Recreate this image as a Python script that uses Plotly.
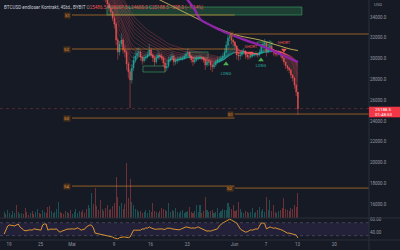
import pandas as pd
import plotly.graph_objects as go

W, H = 400, 250
BG = "#161a25"

# ---------------- data (8h candles, BYBIT BTCUSD) ----------------
candle_start = "2022-04-18 02:00"
candle_step = "8h"

close = [
    39400, 39000, 40800, 41000, 41300, 41500, 41800, 41200, 41400, 41700, 42600, 40500,
    40300, 40000, 39700, 39800, 39600, 39500, 39500, 39700, 39400, 38800, 39900, 40400,
    40200, 39000, 38100, 38500, 39200, 39200, 39300, 39900, 39700, 39500, 38900, 38600,
    38700, 38300, 37700, 37900, 38300, 38500, 38700, 38900, 38500, 38000, 37800, 37700,
    37900, 38800, 39700, 39300, 37200, 36500, 36200, 35800, 36000, 35900, 35700, 35250,
    34870, 34480, 33900, 33330, 31790, 30630, 31400, 31790, 30830, 30630, 29480, 28710,
    27940, 29100, 29870, 30250, 30540, 30630, 30150, 29770, 30060, 30150, 30350, 30830,
    30350, 30060, 29670, 30060, 30350, 30250, 30060, 29580, 29100, 29290, 29870, 30060,
    30250, 29670, 29770, 29870, 29960, 30060, 30060, 30250, 30440, 30630, 30250, 29870,
    29670, 29870, 30060, 30060, 30150, 30060, 29870, 29380, 29670, 29670, 29380, 29190,
    29380, 29670, 29870, 29870, 30060, 30250, 30630, 31310, 31980, 32170, 31790, 31600,
    31210, 30350, 30250, 30350, 30630, 30730, 30350, 30150, 30150, 30250, 30350, 30440,
    30440, 30350, 30630, 31120, 31400, 31500, 30630, 31120, 31210, 30830, 30630, 30440,
    30440, 30540, 30350, 30060, 29670, 29290, 29100, 28900, 28420, 28130, 27460, 26790,
    25188.5,
]
first_visible = 57
high = [
    36300, 36100, 35800, 35400, 35000, 34600, 34100, 33500, 32000, 31700, 32400, 32000,
    31300, 30800, 29700, 29000, 29500, 30300, 30700, 31000, 31100, 30800, 30300, 30400,
    30500, 30700, 31400, 31000, 30500, 30200, 30400, 30800, 30600, 30500, 30200, 29700,
    29600, 30200, 30400, 30600, 30400, 30100, 30200, 30200, 30300, 30300, 30500, 30700,
    31000, 30700, 30300, 30000, 30200, 30300, 30300, 30400, 30300, 30200, 30000, 29900,
    29900, 29800, 29500, 29600, 29900, 30100, 30200, 30300, 30500, 31000, 31700, 32300,
    32500, 32200, 31900, 31700, 31300, 30600, 30600, 30900, 31000, 30800, 30500, 30400,
    30500, 30500, 30600, 30700, 30600, 30900, 31400, 31700, 31900, 31600, 31400, 31800,
    31300, 30900, 30700, 30700, 30800, 30600, 30400, 30100, 29700, 29400, 29200, 29000,
    28500, 28200, 27500, 26207.5,
]
low = [
    35600, 35400, 34900, 34600, 34200, 33600, 32900, 31300, 29900, 30300, 31100, 30500,
    30100, 28900, 28100, 25250, 27600, 28800, 29600, 30000, 30200, 29800, 29400, 29600,
    29800, 30000, 30200, 30100, 29700, 29300, 29500, 29900, 29900, 29800, 29200, 28700,
    28800, 29100, 29700, 29900, 29300, 29400, 29500, 29700, 29800, 29800, 29900, 30100,
    30300, 30000, 29600, 29300, 29500, 29700, 29800, 29900, 29800, 29600, 28900, 29200,
    29300, 28900, 28700, 29000, 29200, 29500, 29600, 29700, 29900, 30100, 30500, 31200,
    31700, 31400, 31200, 30800, 29900, 29800, 29900, 30200, 30400, 30000, 29900, 29900,
    30000, 30100, 30200, 30200, 30100, 30200, 30500, 31000, 31200, 30200, 30500, 30900,
    30600, 30300, 30200, 30200, 30300, 30100, 29800, 29400, 29000, 28800, 28600, 28100,
    27800, 27100, 26400, 24600,
]
volume = [
    600, 400, 800, 500, 300, 700, 500, 1300, 600, 400, 500,
    400, 1000, 600, 300, 500, 700, 400, 600, 900, 500, 400,
    800, 600, 500, 1100, 1200, 700, 500, 600, 900, 1600, 600,
    500, 400, 700, 600, 500, 800, 400, 600, 900, 500, 700,
    600, 800, 500, 900, 1300, 1000, 2500, 1400, 3000, 1200, 800,
    1800, 900, 700, 1000, 1300, 800, 900, 1200, 1500, 4100, 2100,
    1200, 1500, 900, 1400, 5500, 2000, 3900, 1600, 1300, 900, 800,
    600, 700, 500, 600, 800, 500, 800, 600, 1500, 700, 600,
    500, 700, 1000, 900, 800, 700, 1500, 600, 800, 700, 1000,
    600, 500, 700, 800, 500, 600, 700, 1100, 600, 500, 700,
    1300, 600, 1300, 500, 700, 2100, 800, 600, 700, 800, 500,
    600, 1000, 500, 700, 900, 800, 800, 1500, 1100, 900, 1300,
    700, 800, 1600, 900, 600, 500, 700, 600, 500, 600, 1000,
    500, 600, 800, 1100, 700, 900, 600, 2100, 800, 1800, 700,
    1300, 600, 500, 700, 800, 1000, 2000, 900, 800, 700, 1000,
    900, 1300, 1100, 2500,
]
rsi = [
    35, 51, 60, 63, 63, 61, 60, 63, 66, 57, 51,
    48, 45, 45, 47, 48, 47, 51, 50, 50, 48, 47,
    63, 66, 66, 47, 50, 51, 50, 50, 51, 44, 41,
    44, 47, 48, 50, 51, 50, 51, 50, 52, 54, 51,
    47, 49, 50, 57, 60, 63, 62, 54, 38, 37, 35,
    35, 34, 32, 32, 31, 29, 29, 26, 23, 21, 20,
    24, 26, 26, 26, 24, 24, 26, 38, 47, 47, 48,
    47, 47, 51, 50, 54, 53, 57, 54, 51, 50, 50,
    51, 50, 51, 50, 49, 53, 54, 53, 51, 50, 49,
    47, 48, 50, 52, 53, 57, 56, 54, 53, 54, 53,
    55, 57, 54, 51, 48, 45, 44, 45, 44, 46, 47,
    48, 51, 60, 66, 69, 72, 75, 78, 81, 78, 75,
    72, 69, 60, 51, 47, 44, 41, 42, 45, 48, 47,
    49, 51, 50, 60, 69, 69, 67, 51, 54, 57, 55,
    53, 54, 53, 51, 49, 47, 44, 40, 38, 38, 37,
    35, 34, 32, 23,
]

# slow moving averages
ema200_x = ["2022-05-15 20:00", "2022-05-17 19:00", "2022-05-19 17:00", "2022-05-21 14:00",
            "2022-05-23 12:00", "2022-05-25 10:00", "2022-05-27 08:00", "2022-05-29 05:00",
            "2022-05-31 03:00", "2022-06-02 01:00", "2022-06-03 23:00", "2022-06-05 20:00",
            "2022-06-07 18:00", "2022-06-09 16:00", "2022-06-11 14:00", "2022-06-13 02:00"]
ema200_y = [36100, 35635, 35154, 34673, 34192, 33712, 33231, 32846, 32462, 32173, 31981,
            31788, 31500, 31212, 30923, 30780]
sma200_x = ["2022-05-22 18:00", "2022-05-23 12:00", "2022-05-24 11:00", "2022-05-25 10:00",
            "2022-05-27 08:00", "2022-05-29 05:00", "2022-05-31 12:00", "2022-06-03 00:00",
            "2022-06-06 06:00", "2022-06-09 16:00", "2022-06-13 02:00"]
sma200_y = [35827, 35346, 34673, 33808, 33231, 32750, 32269, 31788, 31212, 30442, 29673]

tick_dates = ["2022-04-19", "2022-04-25", "2022-05-01", "2022-05-09", "2022-05-16",
              "2022-05-23", "2022-06-01", "2022-06-07", "2022-06-13", "2022-06-20"]
tick_text = ["19", "25", "Mai", "9", "16", "23", "Jun", "7", "13", "20"]
price_ticks = [16000, 18000, 20000, 22000, 24000, 26000, 28000, 30000, 32000, 34000]
rsi_ticks = [40, 80]
rsi_tick_text = ["40.00", "80.00"]
rsi_band = [30, 70]

# monthly pivots
may_start, jun_start = "2022-05-01", "2022-06-01"
may_names = ["S1", "S2", "S3", "S4"]
may_levels = [34192, 30922, 24284, 17742]
jun_names = ["P", "S1", "S2"]
jun_levels = [32365, 24669, 17550]

# supply / demand zones
zone_x0 = ["2022-05-07 16:00", "2022-05-14 13:00", "2022-05-23 13:00", "2022-06-05 07:00"]
zone_x1 = ["2022-06-13 20:00", "2022-05-18 18:00", "2022-05-26 23:00", "2022-06-08 04:00"]
zone_lo = [34192, 28712, 30058, 31308]
zone_hi = [34962, 29289, 30635, 31596]
zone_fill = [0.3, 0.04, 0.12, 0.15]

# signals
long_x = ["2022-05-30 09:00", "2022-06-06 01:00"]
long_y = [29480, 29870]
long_label_y = [28520, 29290]
short_x = ["2022-06-04 03:00", "2022-06-10 10:00"]
short_y = [30540, 30830]
short_label_y = [31115, 31500]

ribbon_lengths = [3, 5, 7, 9, 11, 13, 15, 18, 21, 24, 27, 30, 34, 38]

title_sym = "BTCUSD endloser Kontrakt, 4Std., BYBIT"
ohlc_text = [("O", "25486.5"), ("H", "26207.5"), ("L", "24600.0"), ("C", "25188.5")]
change_text = "−298.0 (−1.14%)"
countdown = "01:48:53"

# ---------------- derived ----------------
dates = pd.date_range(candle_start, periods=len(close), freq=candle_step)
cs = pd.Series(close, index=dates)
opens = [close[0]] + close[:-1]

vis = slice(first_visible, len(close))
UP, DN = "#26a69a", "#ef5350"

# axes geometry (pixels)
PX_PER_DAY = 5.245
X_PLOT = 369
Y_PRICE_BOTTOM = 218
Y_RSI_BOTTOM = 240
x0 = pd.Timestamp("2022-04-19") - pd.Timedelta(days=9 / PX_PER_DAY)
x1 = x0 + pd.Timedelta(days=X_PLOT / PX_PER_DAY)
px_per_usd = 104 / 10000.0
y_top_price = 34000 + 17 / px_per_usd
y_bot_price = y_top_price - Y_PRICE_BOTTOM / px_per_usd
rsi_px = 0.325
rsi_top = 70 + (222.7 - Y_PRICE_BOTTOM) / rsi_px
rsi_bot = 70 - (Y_RSI_BOTTOM - 222.7) / rsi_px
xd = X_PLOT / W

fig = go.Figure()

# volume
vcol = ["rgba(38,166,154,0.4)" if c >= o else "rgba(239,83,80,0.4)" for o, c in zip(opens, close)]
fig.add_trace(go.Bar(x=dates, y=volume, marker=dict(color=vcol, line=dict(width=0)),
                     width=8 * 3600 * 1000 * 0.6, yaxis="y3", hoverinfo="skip"))

# candles
fig.add_trace(go.Candlestick(
    x=dates[vis], open=opens[vis], high=high, low=low, close=close[vis],
    increasing=dict(line=dict(color=UP, width=0.5), fillcolor=UP),
    decreasing=dict(line=dict(color=DN, width=0.5), fillcolor=DN),
    whiskerwidth=0, yaxis="y", hoverinfo="skip"))

# ribbon (EMA fan) coloured by slope
ux, uy, dx, dy = [], [], [], []
for L in ribbon_lengths:
    e = cs.ewm(span=L, adjust=False).mean()
    vals = list(e.values)
    run, col = [], None
    for k in range(1, len(vals)):
        c = vals[k] >= vals[k - 1]
        if c != col:
            if run:
                tx, ty = (ux, uy) if col else (dx, dy)
                tx.extend([p[0] for p in run] + [None])
                ty.extend([p[1] for p in run] + [None])
            run = [(dates[k - 1], vals[k - 1])]
            col = c
        run.append((dates[k], vals[k]))
    tx, ty = (ux, uy) if col else (dx, dy)
    tx.extend([p[0] for p in run] + [None])
    ty.extend([p[1] for p in run] + [None])
fig.add_trace(go.Scatter(x=dx, y=dy, mode="lines", line=dict(color="rgba(242,90,100,0.45)", width=0.6),
                         hoverinfo="skip", connectgaps=False))
fig.add_trace(go.Scatter(x=ux, y=uy, mode="lines", line=dict(color="rgba(38,166,154,0.55)", width=0.6),
                         hoverinfo="skip", connectgaps=False))

# slow averages
fig.add_trace(go.Scatter(x=ema200_x, y=ema200_y, mode="lines", line=dict(color="#c9b458", width=0.9, shape="spline"),
                         hoverinfo="skip"))
fig.add_trace(go.Scatter(x=sma200_x, y=sma200_y, mode="lines", line=dict(color="#8e24aa", width=2.4, shape="spline"),
                         hoverinfo="skip"))

# signals
fig.add_trace(go.Scatter(x=long_x, y=long_y, mode="markers",
                         marker=dict(symbol="triangle-up", size=5, color="#4caf50", line=dict(width=0)), hoverinfo="skip"))
fig.add_trace(go.Scatter(x=long_x, y=long_label_y, mode="text", text=["LONG"] * len(long_x),
                         textfont=dict(size=4, color="#26a69a", family="Roboto"), hoverinfo="skip"))
fig.add_trace(go.Scatter(x=short_x, y=short_y, mode="markers",
                         marker=dict(symbol="triangle-down", size=5, color="#ef5350", line=dict(width=0)), hoverinfo="skip"))
fig.add_trace(go.Scatter(x=short_x, y=short_label_y, mode="text", text=["SHORT"] * len(short_x),
                         textfont=dict(size=4, color="#ef5350", family="Roboto"), hoverinfo="skip"))

# RSI
fig.add_trace(go.Scatter(x=dates, y=rsi, mode="lines", line=dict(color="#f0a030", width=0.9), yaxis="y2", hoverinfo="skip"))

shapes, annotations = [], []
PIV = "rgba(230,140,40,0.6)"
LABEL_FONT = dict(size=4.3, color="#e0913a", family="Roboto")
for nm, lv in zip(may_names, may_levels):
    shapes.append(dict(type="line", xref="x", yref="y", x0=may_start, x1=jun_start, y0=lv, y1=lv,
                       line=dict(color=PIV, width=1)))
    annotations.append(dict(x=may_start, y=lv, xref="x", yref="y", text=nm, showarrow=False,
                            xanchor="right", xshift=-1, font=LABEL_FONT, bgcolor="rgba(120,70,20,0.5)", borderpad=0))
for nm, lv in zip(jun_names, jun_levels):
    shapes.append(dict(type="line", xref="x", yref="y", x0=jun_start, x1=x1, y0=lv, y1=lv,
                       line=dict(color=PIV, width=1)))
    annotations.append(dict(x=jun_start, y=lv, xref="x", yref="y", text=nm, showarrow=False,
                            xanchor="right", xshift=-1, font=LABEL_FONT, bgcolor="rgba(120,70,20,0.5)", borderpad=0))

for a, b, lo, hi, f in zip(zone_x0, zone_x1, zone_lo, zone_hi, zone_fill):
    shapes.append(dict(type="rect", xref="x", yref="y", x0=a, x1=b, y0=lo, y1=hi,
                       fillcolor=f"rgba(46,150,90,{f})", line=dict(color="rgba(60,170,100,0.75)", width=0.8), layer="below"))

# RSI band
shapes.append(dict(type="rect", xref="paper", yref="y2", x0=0, x1=xd, y0=rsi_band[0], y1=rsi_band[1],
                   fillcolor="rgba(126,87,194,0.13)", line=dict(width=0), layer="below"))
for lv in rsi_band:
    shapes.append(dict(type="line", xref="paper", yref="y2", x0=0, x1=xd, y0=lv, y1=lv,
                       line=dict(color="rgba(120,123,134,0.6)", width=0.7, dash="dot")))

# separators
SEP = "#2a2e39"
shapes.append(dict(type="line", xref="paper", yref="paper", x0=xd, x1=xd, y0=0, y1=1, line=dict(color=SEP, width=1)))
for ypx in (Y_PRICE_BOTTOM, Y_RSI_BOTTOM):
    shapes.append(dict(type="line", xref="paper", yref="paper", x0=0, x1=1, y0=1 - ypx / H, y1=1 - ypx / H,
                       line=dict(color=SEP, width=1)))

# last price line & label
last = close[-1]
shapes.append(dict(type="line", xref="paper", yref="y", x0=0, x1=xd, y0=last, y1=last,
                   line=dict(color="rgba(239,83,80,0.4)", width=0.7, dash="dot")))
shapes.append(dict(type="rect", xref="paper", yref="y", ysizemode="pixel", yanchor=last, x0=xd, x1=1,
                   y0=-8.7, y1=1.9, fillcolor="#f23645", line=dict(width=0)))
annotations.append(dict(x=xd, y=last, xref="paper", yref="y", xanchor="left", yanchor="middle", xshift=4, yshift=-0.6,
                        text=f"{last:.1f}", showarrow=False, font=dict(size=4.4, color="white", family="Roboto")))
annotations.append(dict(x=xd, y=last, xref="paper", yref="y", xanchor="left", yanchor="middle", xshift=4, yshift=-5.6,
                        text=countdown, showarrow=False, font=dict(size=4.4, color="white", family="Roboto")))
annotations.append(dict(x=xd, y=1, xref="paper", yref="paper", xanchor="left", yanchor="top", xshift=3, yshift=0,
                        text="USD", showarrow=False, font=dict(size=4.3, color="#9598a1", family="Roboto")))

# title
parts = [f"<span style='color:#c8cbd3'>{title_sym}</span> "]
for k, v in ohlc_text:
    parts.append(f"<span style='color:#9598a1'>{k}</span><span style='color:#ef5350'>{v}</span> ")
parts.append(f"<span style='color:#ef5350'>{change_text}</span>")
annotations.append(dict(x=0, y=1, xref="paper", yref="paper", xanchor="left", yanchor="top", xshift=2, yshift=-1.5,
                        text="".join(parts), showarrow=False, font=dict(size=4.6, family="Roboto")))

AX_FONT = dict(size=4.5, color="#9598a1", family="Roboto")
fig.update_layout(
    width=W, height=H, margin=dict(l=0, r=0, t=0, b=0),
    paper_bgcolor=BG, plot_bgcolor=BG, showlegend=False,
    shapes=shapes, annotations=annotations, bargap=0,
    xaxis=dict(domain=[0, xd], range=[x0, x1], anchor="y2", tickvals=tick_dates, ticktext=tick_text,
               tickfont=AX_FONT, showgrid=False, zeroline=False, showline=False, ticks="",
               rangeslider=dict(visible=False)),
    yaxis=dict(domain=[1 - Y_PRICE_BOTTOM / H, 1], range=[y_bot_price, y_top_price], side="right", anchor="x",
               tickvals=price_ticks, tickformat=".1f", tickfont=AX_FONT, showgrid=False, zeroline=False, ticks=""),
    yaxis2=dict(domain=[1 - Y_RSI_BOTTOM / H, 1 - Y_PRICE_BOTTOM / H], range=[rsi_bot, rsi_top], side="right",
                anchor="x", tickvals=rsi_ticks, ticktext=rsi_tick_text, tickfont=AX_FONT,
                showgrid=False, zeroline=False, ticks=""),
    yaxis3=dict(overlaying="y", range=[0, Y_PRICE_BOTTOM * 100], visible=False, anchor="x"),
)

fig.write_html("out.html")
